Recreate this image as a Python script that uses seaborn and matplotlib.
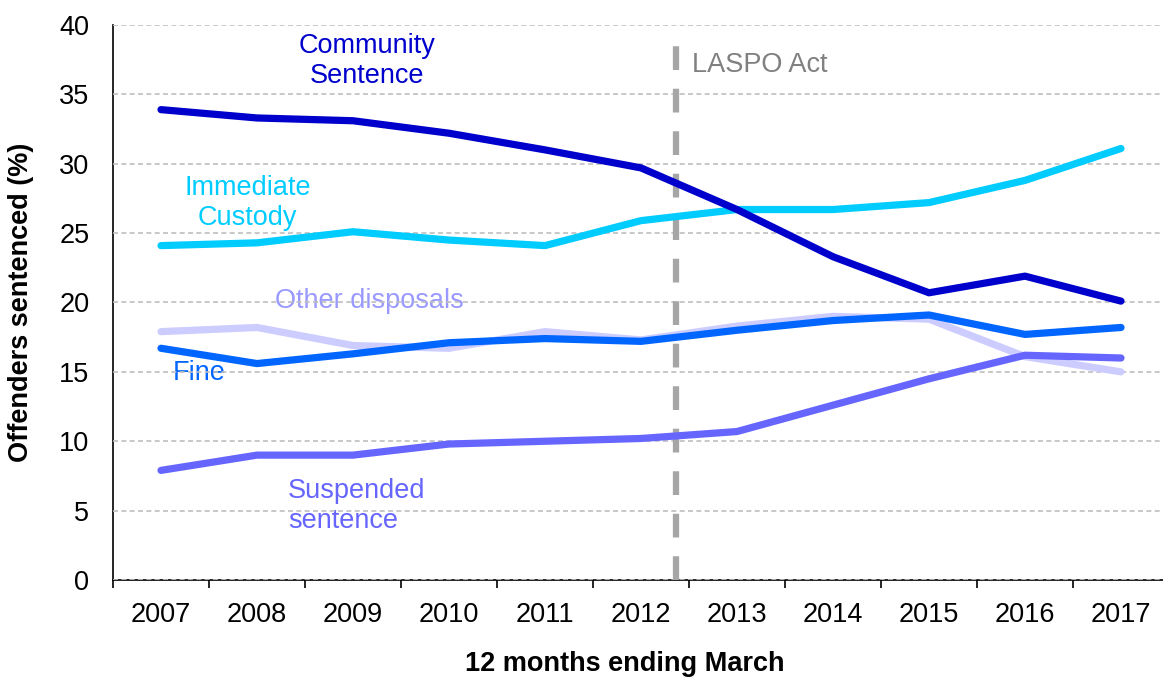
import matplotlib
matplotlib.use("Agg")
import matplotlib.pyplot as plt
import seaborn as sns
import pandas as pd
import numpy as np

# data (% of offenders sentenced)
years = ["2007", "2008", "2009", "2010", "2011", "2012", "2013", "2014", "2015", "2016", "2017"]
community = [33.9, 33.3, 33.1, 32.2, 31.0, 29.7, 26.7, 23.3, 20.7, 21.9, 20.1]
custody = [24.1, 24.3, 25.1, 24.5, 24.1, 25.9, 26.7, 26.7, 27.2, 28.8, 31.1]
fine = [16.7, 15.6, 16.3, 17.1, 17.4, 17.2, 18.0, 18.7, 19.1, 17.7, 18.2]
other = [17.9, 18.2, 16.9, 16.7, 17.9, 17.3, 18.3, 19.0, 18.8, 16.1, 15.0]
suspended = [7.9, 9.0, 9.0, 9.8, 10.0, 10.2, 10.7, 12.6, 14.5, 16.2, 16.0]

series = {
    "Other disposals": other,
    "Suspended sentence": suspended,
    "Fine": fine,
    "Immediate Custody": custody,
    "Community Sentence": community,
}
palette = {
    "Other disposals": "#CCCCFF",
    "Suspended sentence": "#6666FF",
    "Fine": "#0066FF",
    "Immediate Custody": "#00CCFF",
    "Community Sentence": "#0000CC",
}

rows = []
for name, vals in series.items():
    for i, v in enumerate(vals):
        rows.append({"pos": i, "year": years[i], "disposal": name, "pct": v})
df = pd.DataFrame(rows)

sns.set_style("white")
plt.rcParams["font.family"] = ["Liberation Sans", "DejaVu Sans"]
plt.rcParams["text.color"] = "black"
plt.rcParams["axes.labelcolor"] = "black"
plt.rcParams["xtick.color"] = "black"
plt.rcParams["ytick.color"] = "black"

FS = 19.5

fig = plt.figure(figsize=(11.63, 6.78), dpi=100)
ax = fig.add_axes([113 / 1163, (678 - 580) / 678, (1169 - 113) / 1163, 555 / 678])

sns.lineplot(data=df, x="pos", y="pct", hue="disposal", palette=palette,
             linewidth=5.2, legend=False, ax=ax, zorder=3,
             solid_capstyle="round", solid_joinstyle="round")

# LASPO Act marker
laspo_x = 5.36
ax.axvline(laspo_x, ymin=0, ymax=39.1 / 40, color="#A6A6A6", lw=4.5,
           linestyle=(0, (3.8, 3.0)), zorder=2.8)
ax.text(laspo_x + 0.17, 37.1, "LASPO Act", color="#808080", fontsize=FS,
        va="center", ha="left", zorder=1)

# direct labels
lab_kw = dict(fontsize=FS, zorder=1, linespacing=1.2)
ax.text(2.15, 37.4, "Community\nSentence", color="#0000CC", ha="center", va="center", **lab_kw)
ax.text(0.9, 27.2, "Immediate\nCustody", color="#00CCFF", ha="center", va="center", **lab_kw)
ax.text(2.17, 20.1, "Other disposals", color="#9999FF", ha="center", va="center", **lab_kw)
ax.text(0.12, 14.9, "Fine", color="#0066FF", ha="left", va="center", **lab_kw)
ax.text(1.32, 5.3, "Suspended\nsentence", color="#6666FF", ha="left", va="center", **lab_kw)

ax.set_ylim(0, 40)
ax.set_xlim(-0.5, 10.5)
ax.set_yticks(np.arange(0, 41, 5))
ax.yaxis.grid(True, color="#BFBFBF", linestyle=(0, (3, 2)), linewidth=1.2)
ax.xaxis.grid(False)
ax.set_axisbelow(False)

ax.set_xticks(range(len(years)))
ax.set_xticklabels(years)
ax.set_xticks(np.arange(-0.5, 10.6, 1), minor=True)
ax.tick_params(axis="x", which="major", length=0, pad=16, labelsize=FS)
ax.tick_params(axis="x", which="minor", length=6, width=1.2, color="black", bottom=True)
ax.tick_params(axis="y", length=0, pad=17, labelsize=FS)

for s in ["top", "right"]:
    ax.spines[s].set_visible(False)
for s in ["left", "bottom"]:
    ax.spines[s].set_color("black")
    ax.spines[s].set_linewidth(1.2)

ax.set_xlabel("12 months ending March", fontsize=FS, fontweight="bold")
ax.set_ylabel("Offenders sentenced (%)", fontsize=FS, fontweight="bold")
ax.xaxis.set_label_coords(0.485, -0.128)
ax.yaxis.set_label_coords(-0.075, 0.5)

fig.savefig("out.png", dpi=100)
